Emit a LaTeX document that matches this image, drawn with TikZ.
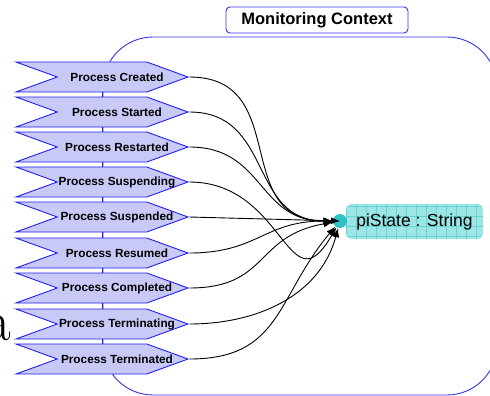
\documentclass[tikz,border=0pt]{standalone}
\usepackage{fontspec}
\usepackage{tikz}
\usepackage{xcolor}
\usetikzlibrary{shapes.symbols,arrows.meta}
\newfontfamily\labelfont{Liberation Sans}
\definecolor{StepBlue}{HTML}{1F1FF0}
\definecolor{StepFill}{HTML}{C9C9F8}
\definecolor{CtxBlue}{HTML}{3434F0}
\definecolor{AttrFill}{HTML}{9DE6E6}
\definecolor{AttrGrid}{HTML}{6AD3D3}
\definecolor{PortCyan}{HTML}{2EC2C4}
\newcommand\ctxname{Monitoring Context}
\newcommand\attrstate{piState : String}
\newcommand\stepcreated{Process Created}
\newcommand\stepstarted{Process Started}
\newcommand\steprestarted{Process Restarted}
\newcommand\stepsuspending{Process Suspending}
\newcommand\stepsuspended{Process Suspended}
\newcommand\stepresumed{Process Resumed}
\newcommand\stepcompleted{Process Completed}
\newcommand\stepterminating{Process Terminating}
\newcommand\stepterminated{Process Terminated}
\tikzstyle{mystepstyle} = [signal, signal from=west, signal to=east, signal pointer angle=40, minimum width=172pt, minimum height=30pt, inner sep=0pt]
\tikzstyle{sn} = [mystepstyle, draw=StepBlue, fill=StepFill]
\tikzstyle{st} = [font=\labelfont\fontsize{11.8}{12}\selectfont\bfseries, xshift=15pt]
\tikzstyle{link} = [draw=StepBlue]
\tikzstyle{ctx} = [rectangle, rounded corners=50pt, draw=CtxBlue, minimum width=394pt, minimum height=358pt]
\tikzstyle{ctxlabel} = [rectangle, rounded corners=4pt, draw=CtxBlue, fill=white, minimum width=182pt, minimum height=26pt, font=\labelfont\fontsize{16.5}{17}\selectfont\bfseries]
\tikzstyle{attr} = [rectangle, rounded corners=6pt, fill=AttrFill, minimum width=137pt, minimum height=35pt, font=\labelfont\fontsize{17.5}{18}\selectfont, path picture={\draw[AttrGrid, line width=0.5pt] (path picture bounding box.south west) grid[step=10pt] (path picture bounding box.north east);}]
\tikzstyle{port} = [circle, fill=PortCyan, minimum size=14pt, inner sep=0pt]
\tikzset{>={Latex[length=9pt,width=7pt]}, every picture/.style={line width=0.9pt}}

\begin{document}
\begin{tikzpicture}[x=1pt,y=1pt]
\clip (0,0) rectangle (490,-396);
\node[ctx] (ctx) at (300,-216) {};
\node[ctxlabel] (ctxname) at (317,-20) {\ctxname};
\node[anchor=base east, font=\fontsize{58}{58}\selectfont] (cut) at (15,-340) {a};
\node[sn, label={[st]center:\stepcreated}] (created) at (102,-77) {};
\node[sn, label={[st]center:\stepstarted}] (started) at (102,-112) {};
\node[sn, label={[st]center:\steprestarted}] (restarted) at (102,-147) {};
\node[sn, label={[st]center:\stepsuspending}] (suspending) at (102,-182) {};
\node[sn, label={[st]center:\stepsuspended}] (suspended) at (102,-217) {};
\node[sn, label={[st]center:\stepresumed}] (resumed) at (102,-253) {};
\node[sn, label={[st]center:\stepcompleted}] (completed) at (102,-288) {};
\node[sn, label={[st]center:\stepterminating}] (terminating) at (102,-324) {};
\node[sn, label={[st]center:\stepterminated}] (terminated) at (102,-359) {};
\node[attr] (state) at (414.5,-221.5) {\attrstate};
\node[port] (port) at (340,-221) {};
\draw [link] (created) -- (started);
\draw [link] (started) -- (restarted);
\draw [link] (restarted) -- (suspending);
\draw [link] (suspending) -- (suspended);
\draw [link] (suspended) -- (resumed);
\draw [link] (resumed) -- (completed);
\draw [link] (completed) -- (terminating);
\draw [link] (terminating) -- (terminated);
\draw [->] (created.east) to[out=0, in=180, looseness=1.3] (port);
\draw [->] (started.east) to[out=0, in=180, looseness=1.2] (port);
\draw [->] (restarted.east) to[out=0, in=180, looseness=1.2] (port);
\draw [->] (suspending.east) to[out=0, in=-120, looseness=1.6] (port);
\draw [->] (suspended.east) -- (port.center);
\draw [->] (resumed.east) to[out=0, in=180, looseness=1.2] (port);
\draw [->] (completed.east) to[out=0, in=190, looseness=1.3] (port);
\draw [->] (terminating.east) to[out=0, in=-105] (port);
\draw [->] (terminated.east) to[out=0, in=-130, looseness=1.2] (port);
\end{tikzpicture}
\end{document}
